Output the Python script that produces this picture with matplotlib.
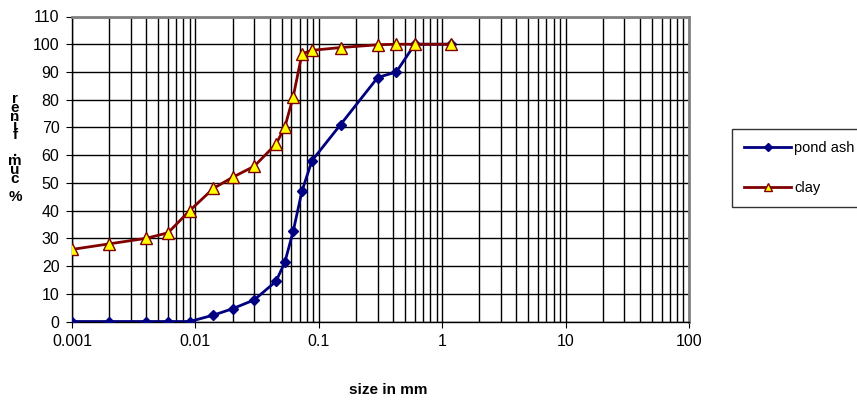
import matplotlib
matplotlib.use("Agg")
import matplotlib.pyplot as plt
from matplotlib.ticker import LogLocator, FixedLocator, NullFormatter, FuncFormatter

plt.rcParams['font.family'] = ['Liberation Sans', 'DejaVu Sans']

# sieve / hydrometer sizes (mm)
size_mm = [0.001, 0.002, 0.004, 0.006, 0.009, 0.014, 0.02, 0.03, 0.045,
           0.053, 0.062, 0.073, 0.088, 0.15, 0.3, 0.425, 0.6, 1.18]
pond_ash = [0, 0, 0, 0, 0, 2.3, 4.6, 7.8, 14.5, 21.3, 32.5, 47, 58, 71,
            88, 90, 100, 100]
clay = [26, 28, 30, 32, 40, 48, 52, 56, 64, 70, 81, 96.5, 97.8, 98.8,
        99.8, 100, 100, 100]
ylabel = "% cum. finer"
xlabel = "size in mm"
series_names = ["pond ash", "clay"]

fig = plt.figure(figsize=(8.57, 4.0), dpi=100)
ax = fig.add_axes([72 / 857, 1 - 321.5 / 400, 617 / 857, 305 / 400])

ax.plot(size_mm, pond_ash, color='#000080', lw=2, marker='D', ms=5.5,
        mfc='#000080', mec='#000080', label=series_names[0], zorder=3)
ax.plot(size_mm, clay, color='#800000', lw=2, marker='^', ms=8.5,
        mfc='#ffff00', mec='#800000', mew=1, label=series_names[1], zorder=4)

ax.set_xscale('log')
ax.set_xlim(0.001, 100)
ax.set_ylim(0, 110)
ax.yaxis.set_major_locator(FixedLocator(range(0, 111, 10)))
ax.xaxis.set_major_locator(LogLocator(base=10, numticks=10))
ax.xaxis.set_minor_locator(LogLocator(base=10, subs=range(2, 10), numticks=50))
ax.xaxis.set_minor_formatter(NullFormatter())
ax.xaxis.set_major_formatter(FuncFormatter(lambda v, p: '%g' % v))

ax.grid(True, which='major', axis='both', color='black', lw=1)
ax.grid(True, which='minor', axis='x', color='black', lw=1)
ax.set_axisbelow(True)

ax.tick_params(axis='both', which='major', labelsize=11.5, length=4,
               direction='out', color='black', pad=5)
ax.tick_params(axis='x', which='minor', length=0)
for side in ('top', 'right'):
    ax.spines[side].set_color('#808080')
    ax.spines[side].set_linewidth(2)
for side in ('bottom', 'left'):
    ax.spines[side].set_color('black')
    ax.spines[side].set_linewidth(1)

fig.text(388 / 857, 1 - 390 / 400, xlabel, ha='center', va='center',
         fontsize=11, fontweight='bold')

# y label drawn as a stack of characters read bottom to top, as in the original
stacked = "\n".join(reversed(list(ylabel)))
fig.text(15 / 857, 1 - 148 / 400, stacked, ha='center', va='center',
         fontsize=11, fontweight='bold', linespacing=0.54,
         multialignment='center')

leg = fig.legend(loc='center left', bbox_to_anchor=(732 / 857, 1 - 168 / 400),
                 fontsize=10.5, frameon=True, fancybox=False, edgecolor='black',
                 handlelength=3.2, labelspacing=1.75, borderpad=0.85,
                 handletextpad=0.2, borderaxespad=0, markerscale=0.75)
leg.get_frame().set_linewidth(1)

fig.savefig('out.png', dpi=100)
